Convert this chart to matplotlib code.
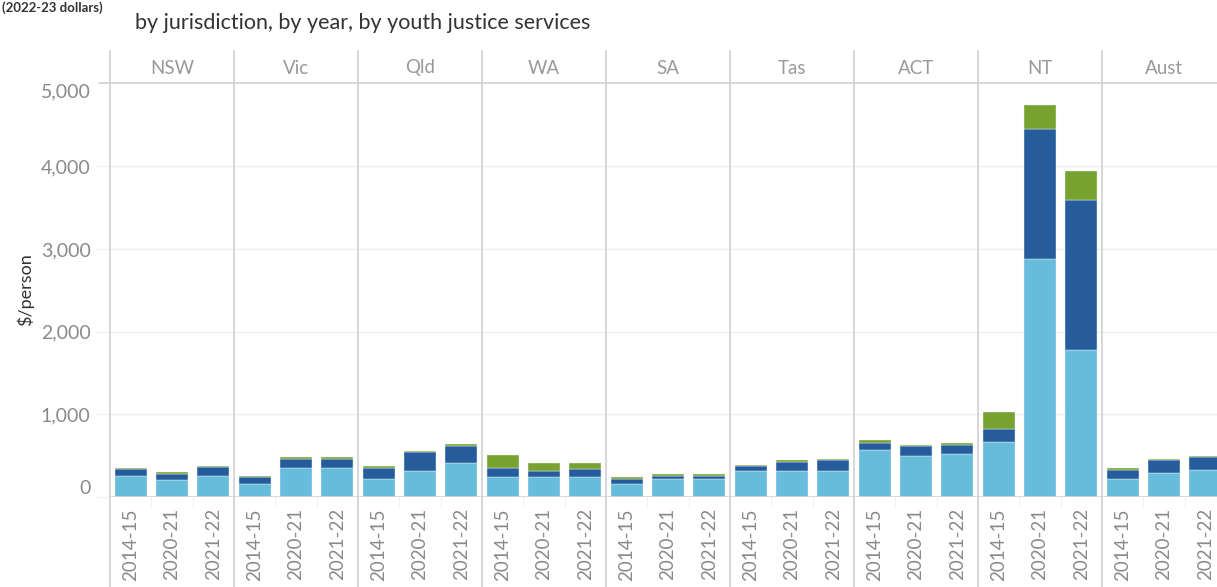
import numpy as np
import matplotlib.pyplot as plt
import matplotlib.transforms as mtransforms

plt.rcParams["font.family"] = ["Lato", "DejaVu Sans"]

juris = ["NSW", "Vic", "Qld", "WA", "SA", "Tas", "ACT", "NT", "Aust"]
years = ["2014-15", "2020-21", "2021-22"]

# $/person, 3 years per jurisdiction
detention = [257, 200, 257, 160, 349, 349, 217, 313, 410, 236, 236, 236, 160, 221, 221,
             313, 313, 313, 574, 498, 518, 671, 2878, 1782, 214, 290, 330]
community = [80, 81, 100, 81, 116, 116, 136, 233, 208, 113, 81, 97, 61, 36, 36,
             61, 116, 132, 77, 116, 113, 148, 1572, 1809, 116, 157, 154]
conferencing = [15, 16, 17, 8, 17, 17, 16, 16, 21, 157, 96, 80, 16, 16, 16,
                15, 16, 20, 36, 17, 20, 210, 295, 347, 17, 16, 16]

c_light = "#67bcdb"
c_dark = "#275c9c"
c_green = "#78a22f"
line_c = "#d4d4d4"
grid_c = "#efefef"
txt_c = "#8a8a8a"

W, H = 1217, 587
fig = plt.figure(figsize=(W / 100, H / 100), dpi=100)

left, top, bottom = 110, 83, 497
panel_w = 124
n = len(juris) * len(years)
ax = fig.add_axes([left / W, 1 - bottom / H, n / 3 * panel_w / W, (bottom - top) / H])

x = np.arange(n)
d = np.array(detention)
c = np.array(community)
g = np.array(conferencing)
bw = 0.77
ax.bar(x, d, bw, color=c_light, edgecolor="#e8f4f9", linewidth=0.3, zorder=3)
ax.bar(x, c, bw, bottom=d, color=c_dark, edgecolor="#e8f4f9", linewidth=0.3, zorder=3)
ax.bar(x, g, bw, bottom=d + c, color=c_green, edgecolor="#e8f4f9", linewidth=0.3, zorder=3)

ax.set_xlim(-0.5, n - 0.5)
ax.set_ylim(0, 5006)

for s in ax.spines.values():
    s.set_visible(False)

# gridlines
yt = [0, 1000, 2000, 3000, 4000, 5000]
ax.set_yticks(yt)
ax.set_yticklabels([f"{v:,}" for v in yt], color=txt_c, fontsize=14)
ax.tick_params(axis="y", length=10, color=grid_c, pad=4)
ylabs = ax.get_yticklabels()
ylabs[0].set_va("bottom")
ylabs[-1].set_va("top")
for v in yt[1:-1]:
    ax.axhline(v, color=grid_c, lw=1, zorder=1)
ax.axhline(0, color=line_c, lw=1.2, zorder=4)

ax.set_xticks(x)
ax.set_xticklabels(years * len(juris), rotation=90, color=txt_c, fontsize=13.5)
ax.tick_params(axis="x", length=0, pad=8)
ax.set_xticks(x[:-1] + 0.5, minor=True)
ax.tick_params(axis="x", which="minor", length=8, color=grid_c)

ax.set_ylabel("$/person", fontsize=13, color="#333333", labelpad=5)

# panel separators and header band
hdr_top = (bottom - 51) / (bottom - top)
fig_bot = -(H - bottom) / (bottom - top)
for k in range(len(juris)):
    xs = 3 * k - 0.5
    ax.axvline(xs, ymin=fig_bot, ymax=hdr_top, color=line_c, lw=1.3, clip_on=False, zorder=5)
    ax.text(3 * k + 1, (bottom - 68) / (bottom - top), juris[k],
            transform=mtransforms.blended_transform_factory(ax.transData, ax.transAxes),
            ha="center", va="center", fontsize=13.5, color="#999999")
ax.axhline(5006, xmin=-10 / (n / 3 * panel_w), xmax=1, color=line_c, lw=1.3, clip_on=False, zorder=5)

fig.text(2 / W, 1 - 1 / H, "(2022-23 dollars)", fontsize=9.5, color="#333333",
         fontweight="bold", ha="left", va="top")
fig.text(135 / W, 1 - 23 / H, "by jurisdiction, by year, by youth justice services",
         fontsize=15.5, color="#333333", ha="left", va="center")

fig.savefig("out.png", dpi=100)
